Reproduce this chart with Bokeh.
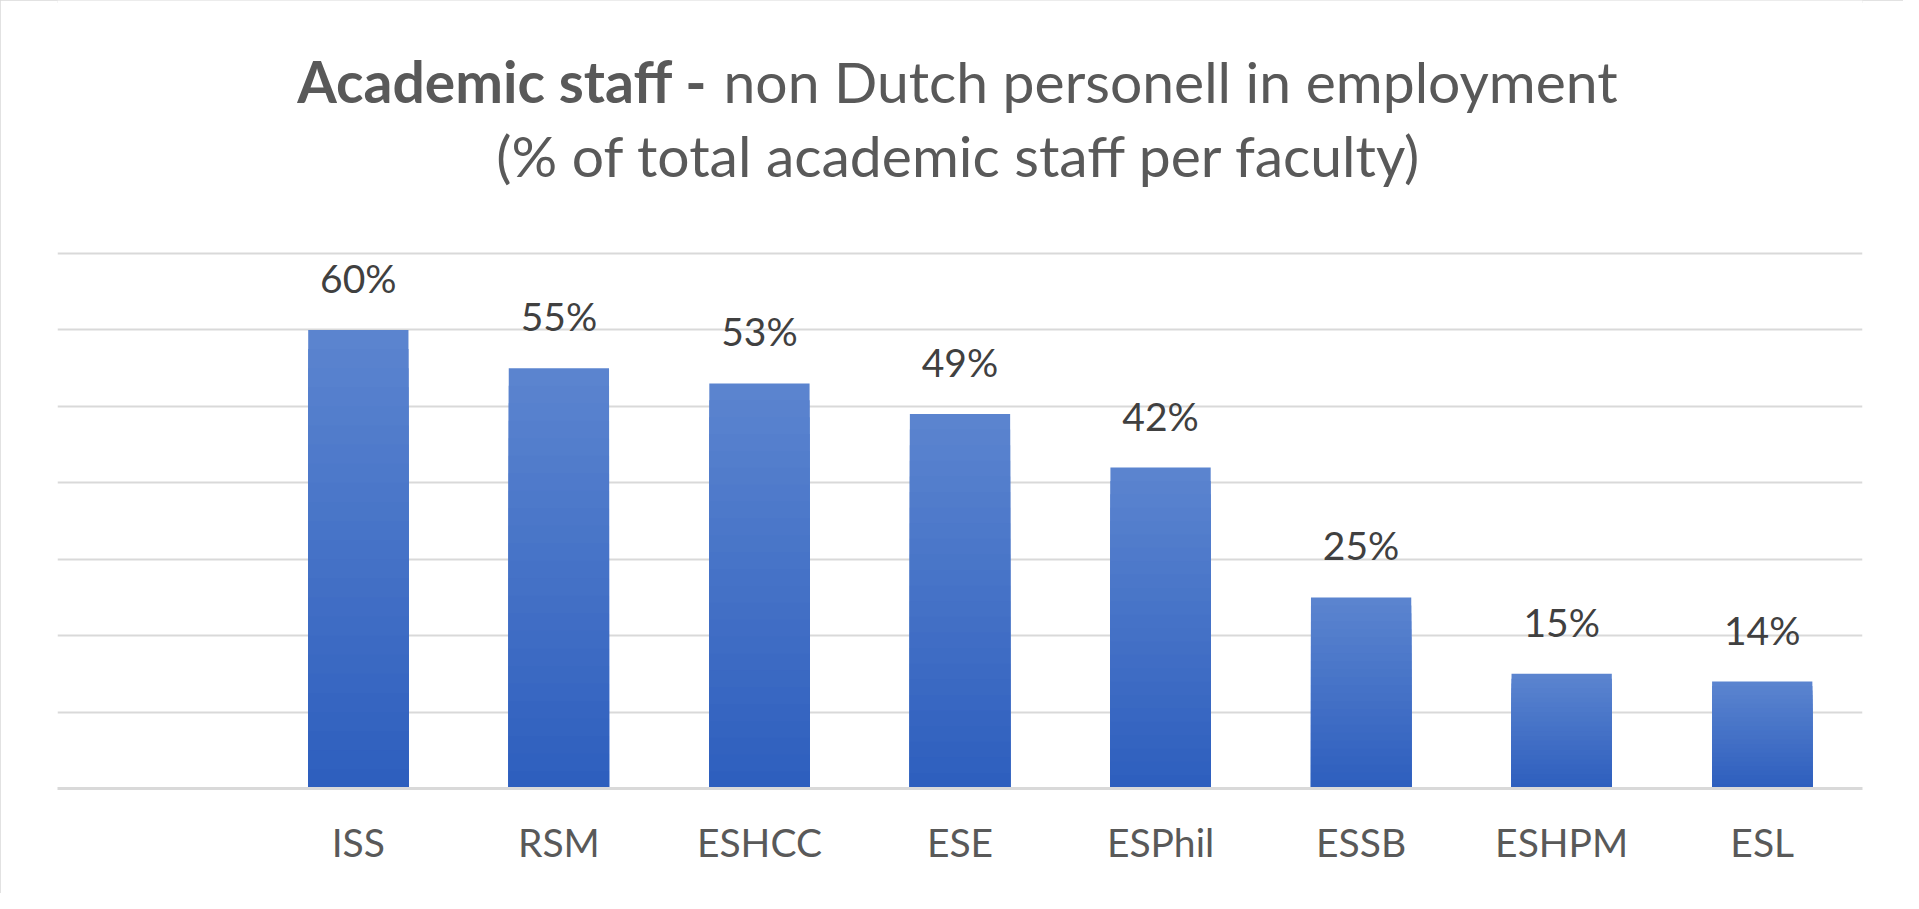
from bokeh.plotting import figure
from bokeh.models import FactorRange, Range1d, Label, FixedTicker, ColumnDataSource
from bokeh.core.properties import value
from bokeh.embed import file_html
from bokeh.resources import INLINE

# ---- data ----
blank_category = " "
categories = ["ISS", "RSM", "ESHCC", "ESE", "ESPhil", "ESSB", "ESHPM", "ESL"]
shares = [60, 55, 53, 49, 42, 25, 15, 14]
share_labels = ["60%", "55%", "53%", "49%", "42%", "25%", "15%", "14%"]
grid_ticks = [0, 10, 20, 30, 40, 50, 60, 70]
title_bold = "Academic staff -"
title_rest = "non Dutch personell in employment"
subtitle = "(% of total academic staff per faculty)"

FONT = "Lato"
W, H = 1903, 893
LEFT, RIGHT, BASE = 57, 1862, 788          # frame edges in px
PX_PER_UNIT = (788 - 253) / 70.0           # 70% gridline at y=253 px
N_SLOTS = len(categories) + 1
SLOT_PX = (RIGHT - LEFT) / N_SLOTS

def xd(px):   # page px -> categorical data coordinate
    return (px - LEFT) / SLOT_PX

def yd(px):   # page px -> value coordinate
    return (BASE - px) / PX_PER_UNIT

p = figure(
    width=W, height=H,
    x_range=FactorRange(*([blank_category] + categories)),
    y_range=Range1d(0, BASE / PX_PER_UNIT),
    output_backend="svg", toolbar_location=None,
    min_border_left=LEFT, min_border_right=W - RIGHT,
    min_border_top=0, min_border_bottom=H - BASE,
)
p.styles = {"outline": "3px solid #d9d9d9", "outline-offset": "-3px"}
p.outline_line_color = None
p.background_fill_color = "white"
p.border_fill_color = "white"

p.yaxis.visible = False
p.xgrid.visible = False
p.ygrid.ticker = FixedTicker(ticks=grid_ticks)
p.ygrid.grid_line_color = "#d9d9d9"
p.ygrid.grid_line_width = 2

ax = p.xaxis[0]
ax.axis_line_color = "#d9d9d9"
ax.axis_line_width = 3
ax.major_tick_line_color = None
ax.minor_tick_line_color = None
ax.major_label_standoff = 24
ax.major_label_text_font = FONT
ax.major_label_text_font_size = "39px"
ax.major_label_text_color = "#595959"

# bars with a vertical gradient (light top -> dark bottom), built as nested layers
TOP_RGB = (0x5B, 0x84, 0xCF)
BOT_RGB = (0x2E, 0x5F, 0xBE)
N_LAYERS = 24
lx, ltop, lcol = [], [], []
for k in range(N_LAYERS):
    f = k / (N_LAYERS - 1)
    rgb = tuple(round(a + (b - a) * f) for a, b in zip(TOP_RGB, BOT_RGB))
    col = "#%02x%02x%02x" % rgb
    for c, v in zip(categories, shares):
        lx.append(c)
        ltop.append(v * (1 - k / N_LAYERS))
        lcol.append(col)
p.vbar(x="x", top="top", width=0.5, fill_color="color", line_color=None,
       source=ColumnDataSource(dict(x=lx, top=ltop, color=lcol)))

p.text(x=categories, y=shares, text=share_labels, text_align="center",
       text_baseline="alphabetic", y_offset=-52,
       text_font=value(FONT), text_font_size="39px", text_color="#404040")

# title, placed inside the frame's empty upper part
TS = "57px"
p.add_layout(Label(x=xd(707), y=yd(80), text=title_bold,
                   text_align="right", text_baseline="alphabetic", text_font=FONT,
                   text_font_size=TS, text_font_style="bold", text_color="#595959"))
p.add_layout(Label(x=xd(723), y=yd(80), text=title_rest,
                   text_align="left", text_baseline="alphabetic", text_font=FONT,
                   text_font_size=TS, text_color="#595959"))
p.add_layout(Label(x=xd(959), y=yd(154), text=subtitle,
                   text_align="center", text_baseline="alphabetic", text_font=FONT,
                   text_font_size=TS, text_color="#595959"))

open("out.html", "w").write(file_html(p, INLINE))
